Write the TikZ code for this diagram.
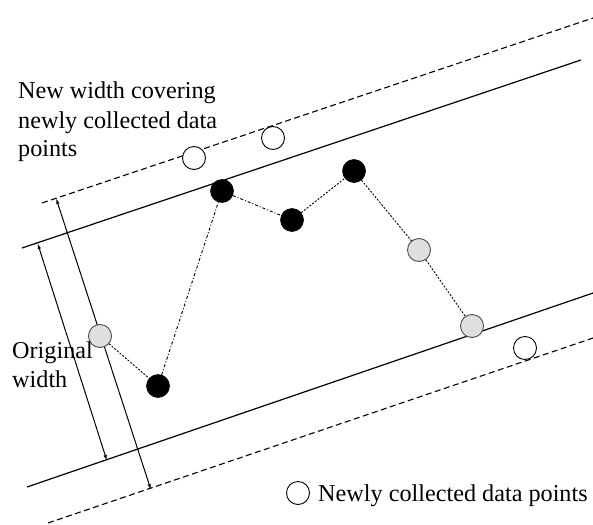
\documentclass[tikz,border=0pt]{standalone}
\usepackage{fontspec}
\setmainfont{Liberation Serif}
\usetikzlibrary{arrows.meta}
\begin{document}
\begin{tikzpicture}[x=1pt,y=-1pt,
  blackpt/.style={circle,fill=black,draw=black,line width=0.6pt,minimum size=23pt,inner sep=0pt},
  graypt/.style={circle,fill=gray!25,draw=black!70,line width=0.9pt,minimum size=23pt,inner sep=0pt},
  newpt/.style={circle,fill=white,draw=black,line width=0.9pt,minimum size=23pt,inner sep=0pt},
  solidline/.style={line width=1.2pt},
  dashline/.style={line width=1.1pt,dash pattern=on 6pt off 3.5pt},
  dimarrow/.style={line width=1pt,{Latex[length=6pt,width=3.5pt]}-{Latex[length=6pt,width=3.5pt]}},
  dotlink/.style={line width=0.9pt,dash pattern=on 2pt off 1.5pt},
  dashdotlink/.style={line width=0.9pt,dash pattern=on 3pt off 2pt on 1pt off 2pt},
  lbl/.style={font=\fontsize{24.2}{29}\selectfont,inner sep=0pt,anchor=base west}]
\useasboundingbox (0,0) rectangle (593,524);
% boundary lines
\coordinate (us1) at (22,248);
\coordinate (us2) at (581,60);
\coordinate (ud1) at (42,203);
\coordinate (ud2) at (596,17);
\coordinate (ls1) at (27,487);
\coordinate (ls2) at (596,292);
\coordinate (ld1) at (48,523);
\coordinate (ld2) at (596,337);
\draw[solidline] (us1) -- (us2);
\draw[dashline] (ud1) -- (ud2);
\draw[solidline] (ls1) -- (ls2);
\draw[dashline] (ld1) -- (ld2);
% width arrows
\coordinate (ow1) at (37.5,243);
\coordinate (ow2) at (107,461);
\coordinate (nw1) at (56,198);
\coordinate (nw2) at (151,490);
\draw[dimarrow] (ow1) -- (ow2);
\draw[dimarrow] (nw1) -- (nw2);
% data points
\node[graypt]  (g1) at (100,336) {};
\node[blackpt] (b1) at (158,386) {};
\node[blackpt] (b2) at (222,191) {};
\node[blackpt] (b3) at (292,220) {};
\node[blackpt] (b4) at (354,171) {};
\node[graypt]  (g2) at (419,250) {};
\node[graypt]  (g3) at (472,326) {};
\node[newpt] (n1) at (194,158) {};
\node[newpt] (n2) at (273,138) {};
\node[newpt] (n3) at (525,348) {};
\node[newpt] (leg) at (298,493) {};
% links
\draw[dotlink] (g1) -- (b1);
\draw[dashdotlink] (b1) -- (b2);
\draw[dashdotlink] (b2) -- (b3);
\draw[dotlink] (b3) -- (b4);
\draw[dotlink] (b4) -- (g2);
\draw[dotlink] (g2) -- (g3);
% labels
\node[lbl] (t1) at (18,99) {New width covering};
\node[lbl] (t2) at (18,128) {newly collected data};
\node[lbl] (t3) at (18,156) {points};
\node[lbl] (o1) at (12,358) {Original};
\node[lbl] (o2) at (12,387) {width};
\node[lbl] (legt) at (318,501) {Newly collected data points};
\end{tikzpicture}
\end{document}
